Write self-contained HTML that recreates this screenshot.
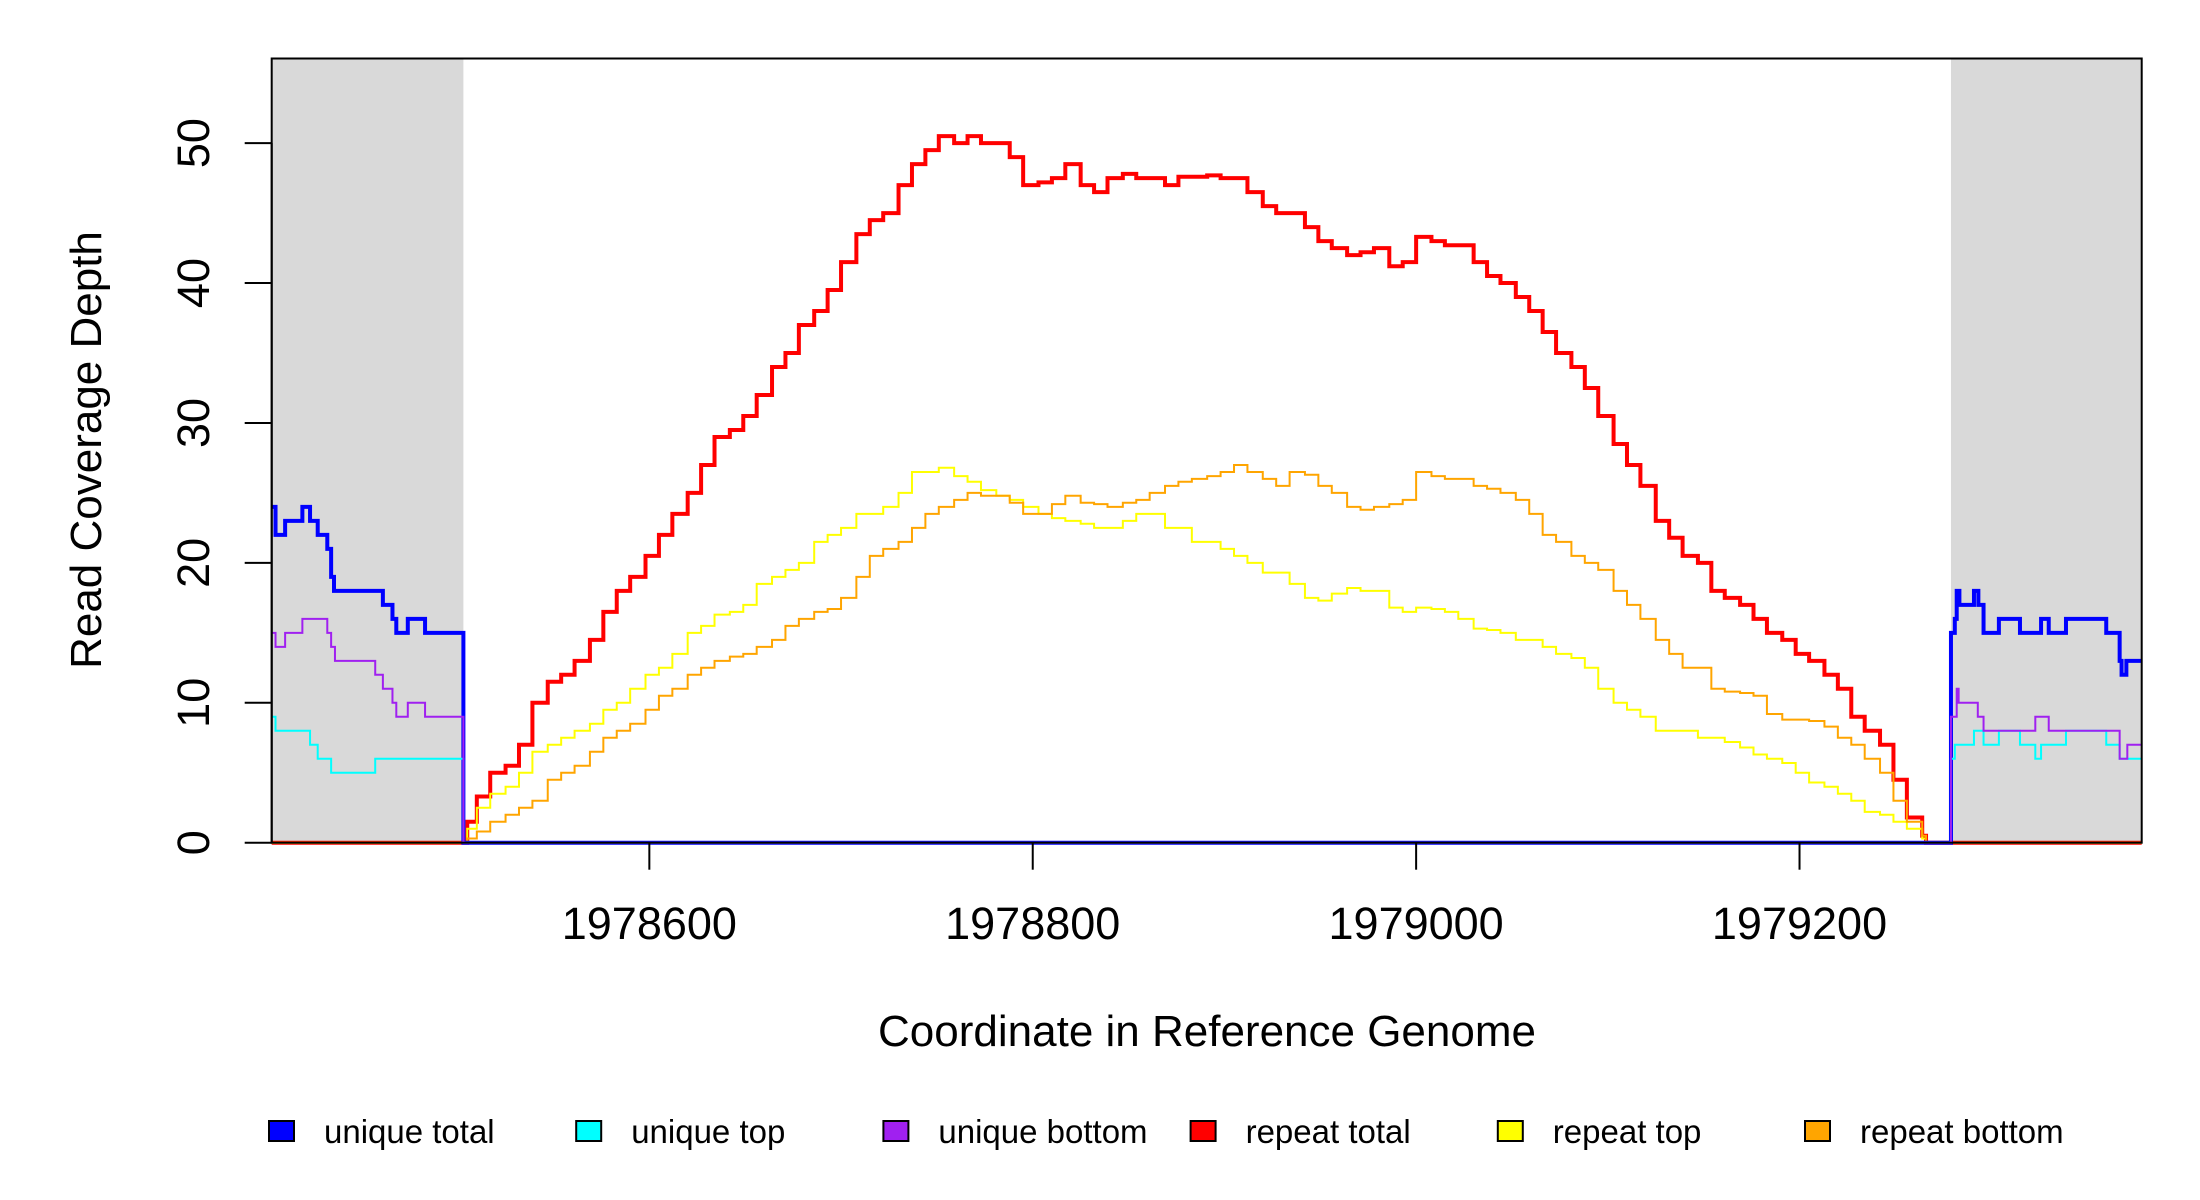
<!DOCTYPE html>
<html>
<head>
<meta charset="utf-8">
<style>
  html, body { margin: 0; padding: 0; background: #ffffff; }
  svg { display: block; }
  text { font-family: "Liberation Sans", "DejaVu Sans", sans-serif; fill: #000; }
</style>
</head>
<body>
<svg id="chart" width="2200" height="1200" viewBox="0 0 2200 1200" xmlns="http://www.w3.org/2000/svg">
  <rect x="0" y="0" width="2200" height="1200" fill="#ffffff"/>
  <g id="shade"></g>
  <g id="series"></g>
  <rect x="271.7" y="58.5" width="1870" height="784.2" fill="none" stroke="#000" stroke-width="2"/>
  <g id="yaxis"></g>
  <g id="xaxis"></g>
  <text x="1207" y="1046" font-size="44" text-anchor="middle">Coordinate in Reference Genome</text>
  <text x="0" y="0" font-size="44" text-anchor="middle" transform="translate(101,450) rotate(-90)">Read Coverage Depth</text>
  <g id="legend"></g>
</svg>
<script>
// ---- data ----
const xTicks = [1978600, 1978800, 1979000, 1979200];
const yTicks = [0, 10, 20, 30, 40, 50];
const maskedRegions = [[1978403, 1978503], [1979279, 1979378.5]];

const repeatPos = [1978403, 1978503, 1978505,
  1978510,1978517,1978525,1978532,1978539,1978547,1978554,1978561,1978569,1978576,
  1978583,1978590,1978598,1978605,1978612,1978620,1978627,1978634,1978642,1978649,
  1978656,1978664,1978671,1978678,1978686,1978693,1978700,1978708,1978715,1978722,
  1978730,1978737,1978744,1978751,1978759,1978766,1978773,1978781,1978788,1978795,
  1978803,1978810,1978817,1978825,1978832,1978839,1978847,1978854,1978861,1978869,
  1978876,1978883,1978891,1978898,1978905,1978912,1978920,1978927,1978934,1978942,
  1978949,1978956,1978964,1978971,1978978,1978986,1978993,1979000,1979008,1979015,
  1979022,1979030,1979037,1979044,1979052,1979059,1979066,1979073,1979081,1979088,
  1979095,1979103,1979110,1979117,1979125,1979132,1979139,1979147,1979154,1979161,
  1979169,1979176,1979183,1979191,1979198,1979205,1979213,1979220,1979227,1979234,
  1979242,1979249,1979256,
  1979264, 1979266];

const repeatTotal = [0, 0, 1.5,
  3.3,5,5.5,7,10,11.5,12,13,14.5,16.5,
  18,19,20.5,22,23.5,25,27,29,29.5,30.5,
  32,34,35,37,38,39.5,41.5,43.5,44.5,45,
  47,48.5,49.5,50.5,50,50.5,50,50,49,47,
  47.2,47.5,48.5,47,46.5,47.5,47.8,47.5,47.5,47,
  47.6,47.6,47.7,47.5,47.5,46.5,45.5,45,45,44,
  43,42.5,42,42.2,42.5,41.2,41.5,43.3,43,42.7,
  42.7,41.5,40.5,40,39,38,36.5,35,34,32.5,
  30.5,28.5,27,25.5,23,21.8,20.5,20,18,17.5,
  17,16,15,14.5,13.5,13,12,11,9,8,
  7,4.5,1.8,
  0.5, 0];

const repeatTop = [0, 0, 1,
  2.5,3.5,4,5,6.5,7,7.5,8,8.5,9.5,
  10,11,12,12.5,13.5,15,15.5,16.3,16.5,17,
  18.5,19,19.5,20,21.5,22,22.5,23.5,23.5,24,
  25,26.5,26.5,26.8,26.2,25.8,25.2,24.8,24.5,24,
  23.5,23.2,23,22.8,22.5,22.5,23,23.5,23.5,22.5,
  22.5,21.5,21.5,21,20.5,20,19.3,19.3,18.5,17.5,
  17.3,17.8,18.2,18,18,16.8,16.5,16.8,16.7,16.5,
  16,15.3,15.2,15,14.5,14.5,14,13.5,13.2,12.5,
  11,10,9.5,9,8,8,8,7.5,7.5,7.2,
  6.8,6.3,6,5.7,5,4.3,4,3.5,3,2.2,
  2,1.5,1,
  0.3, 0];

const repeatBottom = [0, 0, 0.3,
  0.8,1.5,2,2.5,3,4.5,5,5.5,6.5,7.5,
  8,8.5,9.5,10.5,11,12,12.5,13,13.3,13.5,
  14,14.5,15.5,16,16.5,16.7,17.5,19,20.5,21,
  21.5,22.5,23.5,24,24.5,25,24.8,24.8,24.3,23.5,
  23.5,24.2,24.8,24.3,24.2,24,24.3,24.5,25,25.5,
  25.8,26,26.2,26.5,27,26.5,26,25.5,26.5,26.3,
  25.5,25,24,23.8,24,24.2,24.5,26.5,26.2,26,
  26,25.5,25.3,25,24.5,23.5,22,21.5,20.5,20,
  19.5,18,17,16,14.5,13.5,12.5,12.5,11,10.8,
  10.7,10.5,9.2,8.8,8.8,8.7,8.3,7.5,7,6,
  5,3,1.5,
  0.5, 0];

const uniqueTotalPos = [1978403,1978405,1978410,1978419,1978423,1978427,1978432,1978434,1978435.5,1978461,1978466,1978468,1978474,1978483,1978503,
  1979279,1979281,1979282,1979283.4,1979291,1979293.3,1979296,1979304,1979315,1979326,1979330,1979339,1979360,1979367,1979368,1979370.5];
const uniqueTotal = [24,22,23,24,23,22,21,19,18,17,16,15,16,15,0,
  15,16,18,17,18,17,15,16,15,16,15,16,15,13,12,13];

const uniqueBottomPos = [1978403,1978405,1978410,1978419,1978432,1978434,1978436,1978457,1978461,1978466,1978468,1978474,1978483,1978503,
  1979279,1979282,1979283,1979293,1979296,1979323,1979330,1979367,1979371];
const uniqueBottom = [15,14,15,16,15,14,13,12,11,10,9,10,9,0,
  9,11,10,9,8,9,8,6,7];

const uniqueTopPos = [1978403,1978405,1978423,1978427,1978434,1978457,1978503,
  1979279,1979281,1979291,1979296,1979304,1979315,1979323,1979326,1979339,1979360,1979367];
const uniqueTop = [9,8,7,6,5,6,0,
  6,7,8,7,8,7,6,7,8,7,6];

const legendLabels = ["unique total","unique top","unique bottom","repeat total","repeat top","repeat bottom"];
const legendColors = ["#0000ff","#00ffff","#a020f0","#ff0000","#ffff00","#ffa500"];

// ---- scales ----
const X0 = 271.7, X1 = 2141.7, Y0 = 842.7, Y1 = 58.5;
const xMin = 1978403, xMax = 1979378.5, yMax = 56.05;
function sx(v) { return X0 + (v - xMin) / (xMax - xMin) * (X1 - X0); }
function sy(v) { return Y0 - v / yMax * (Y0 - Y1); }
const NS = "http://www.w3.org/2000/svg";
function mk(tag, attrs) { const e = document.createElementNS(NS, tag); for (const k in attrs) e.setAttribute(k, attrs[k]); return e; }

// masked regions
const shade = document.getElementById('shade');
maskedRegions.forEach(r => {
  const el = mk('rect', {x: sx(r[0]), y: Y1, width: sx(r[1]) - sx(r[0]), height: Y0 - Y1, fill: '#d9d9d9'});
  
  
  shade.appendChild(el);
});

// step series
function stepPath(pos, vals) {
  let d = 'M' + sx(pos[0]).toFixed(2) + ',' + sy(vals[0]).toFixed(2);
  for (let i = 1; i < pos.length; i++) {
    d += 'H' + sx(pos[i]).toFixed(2) + 'V' + sy(vals[i]).toFixed(2);
  }
  d += 'H' + sx(xMax).toFixed(2);
  return d;
}
const seriesG = document.getElementById('series');
const seriesDefs = [
  ['repeat-total-line', repeatPos, repeatTotal, '#ff0000', 4],
  ['repeat-top-line', repeatPos, repeatTop, '#ffff00', 2],
  ['repeat-bottom-line', repeatPos, repeatBottom, '#ffa500', 2],
  ['unique-total-line', uniqueTotalPos, uniqueTotal, '#0000ff', 4],
  ['unique-top-line', uniqueTopPos, uniqueTop, '#00ffff', 2],
  ['unique-bottom-line', uniqueBottomPos, uniqueBottom, '#a020f0', 2]
];
seriesDefs.forEach(s => {
  const p = mk('path', {d: stepPath(s[1], s[2]), fill: 'none', stroke: s[3], 'stroke-width': s[4], 'stroke-linejoin': 'miter'});
  
  
  seriesG.appendChild(p);
});

// y axis
const yax = document.getElementById('yaxis');
const yl = mk('line', {x1: X0, x2: X0, y1: sy(yTicks[0]), y2: sy(yTicks[yTicks.length-1]), stroke: '#000', 'stroke-width': 2});


yax.appendChild(yl);
yTicks.forEach(t => {
  const ln = mk('line', {x1: X0 - 27, x2: X0, y1: sy(t), y2: sy(t), stroke: '#000', 'stroke-width': 2});
  
  
  yax.appendChild(ln);
  const tx = mk('text', {x: 0, y: 0, 'font-size': 45, 'text-anchor': 'middle', transform: 'translate(209,' + sy(t) + ') rotate(-90)'});
  tx.textContent = String(t);
  
  
  yax.appendChild(tx);
});

// x axis
const xax = document.getElementById('xaxis');
xTicks.forEach(t => {
  const ln = mk('line', {x1: sx(t), x2: sx(t), y1: Y0, y2: Y0 + 27, stroke: '#000', 'stroke-width': 2});
  
  
  xax.appendChild(ln);
  const tx = mk('text', {x: sx(t), y: 939, 'font-size': 45, 'text-anchor': 'middle'});
  tx.textContent = String(t);
  
  
  xax.appendChild(tx);
});

// legend
const lg = document.getElementById('legend');
legendLabels.forEach((lab, i) => {
  const x = 269 + i * 307.2;
  const g = mk('g', {});
  
  
  const r = mk('rect', {x: x, y: 1121, width: 25, height: 20, fill: legendColors[i], stroke: '#000', 'stroke-width': 2});
  
  
  g.appendChild(r);
  const t = mk('text', {x: x + 55, y: 1143, 'font-size': 33});
  t.textContent = lab;
  
  
  g.appendChild(t);
  lg.appendChild(g);
});
</script>
</body>
</html>
